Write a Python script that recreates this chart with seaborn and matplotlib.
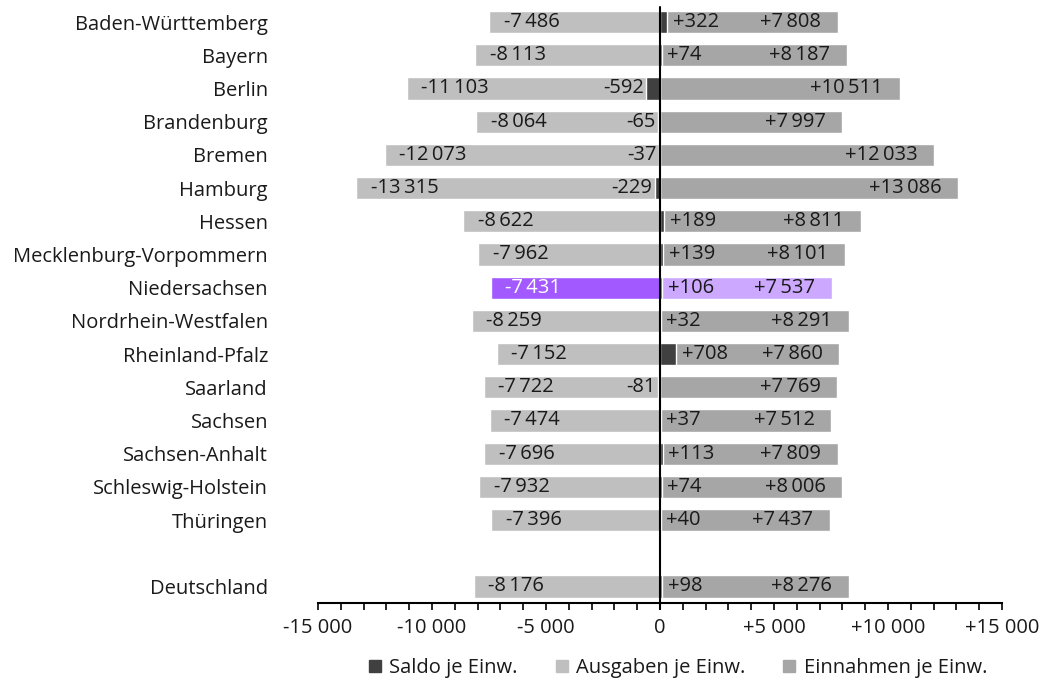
import numpy as np
import pandas as pd
import seaborn as sns
import matplotlib.pyplot as plt
from matplotlib.lines import Line2D
from matplotlib.ticker import MultipleLocator, FixedLocator

laender = ['Baden-Württemberg', 'Bayern', 'Berlin', 'Brandenburg', 'Bremen', 'Hamburg',
           'Hessen', 'Mecklenburg-Vorpommern', 'Niedersachsen', 'Nordrhein-Westfalen',
           'Rheinland-Pfalz', 'Saarland', 'Sachsen', 'Sachsen-Anhalt', 'Schleswig-Holstein',
           'Thüringen', 'Deutschland']
ausgaben = [-7486, -8113, -11103, -8064, -12073, -13315, -8622, -7962, -7431, -8259,
            -7152, -7722, -7474, -7696, -7932, -7396, -8176]
saldo = [322, 74, -592, -65, -37, -229, 189, 139, 106, 32, 708, -81, 37, 113, 74, 40, 98]
einnahmen = [7808, 8187, 10511, 7997, 12033, 13086, 8811, 8101, 7537, 8291, 7860, 7769,
             7512, 7809, 8006, 7437, 8276]
x_ticks = [-15000, -10000, -5000, 0, 5000, 10000, 15000]
highlight = 'Niedersachsen'

sns.set_style('white')
plt.rcParams['font.family'] = ['Open Sans', 'DejaVu Sans']

c_saldo = '#404040'
c_aus = '#bfbfbf'
c_ein = '#a6a6a6'
c_aus_hl = '#a259ff'
c_ein_hl = '#cca8ff'

df = pd.DataFrame({'Land': laender, 'Ausgaben': ausgaben, 'Saldo': saldo, 'Einnahmen': einnahmen})
# leere Zeile zwischen Thüringen und Deutschland
order = laender[:-1] + [' '] + laender[-1:]
pos = {name: i for i, name in enumerate(order)}

pal_aus = {l: (c_aus_hl if l == highlight else c_aus) for l in laender}
pal_ein = {l: (c_ein_hl if l == highlight else c_ein) for l in laender}

fig = plt.figure(figsize=(10.56, 6.79), dpi=100)
ax = fig.add_axes([0.3011, 0.1119, 0.6477, 0.880])

sns.barplot(data=df, y='Land', x='Ausgaben', order=order, hue='Land', palette=pal_aus,
            width=0.67, legend=False, saturation=1, ax=ax)
sns.barplot(data=df, y='Land', x='Einnahmen', order=order, hue='Land', palette=pal_ein,
            width=0.67, legend=False, saturation=1, ax=ax)
sns.barplot(data=df, y='Land', x='Saldo', order=order, color=c_saldo,
            width=0.67, saturation=1, ax=ax)

ax.axvline(0, color='black', lw=1.5, ymin=-0.01, ymax=0.998, clip_on=False, zorder=5)

def fmt(v, sign=True):
    s = f'{abs(v):,}'.replace(',', '\u2009')
    if v < 0:
        return '-' + s
    if v > 0 and sign:
        return '+' + s
    return s

fs = 14.5
fs_val = 14.5
txt = '#1a1a1a'
for _, r in df.iterrows():
    y = pos[r['Land']]
    tc = 'white' if r['Land'] == highlight else txt
    ax.annotate(fmt(r['Ausgaben']), (r['Ausgaben'], y), xytext=(10.5, 0), textcoords='offset points',
                ha='left', va='center', fontsize=fs_val, color=tc, zorder=6)
    ax.annotate(fmt(r['Einnahmen']), (r['Einnahmen'], y), xytext=(-12, 0), textcoords='offset points',
                ha='right', va='center', fontsize=fs_val, color=txt, zorder=6)
    s = r['Saldo']
    if s >= 0:
        ax.annotate(fmt(s), (s, y), xytext=(4, 0), textcoords='offset points',
                    ha='left', va='center', fontsize=fs_val, color=txt, zorder=6)
    else:
        ax.annotate(fmt(s), (s, y), xytext=(-2, 0), textcoords='offset points',
                    ha='right', va='center', fontsize=fs_val, color=txt, zorder=6)

ax.set_xlim(-15000, 15000)
ax.set_ylim(len(order) - 0.5, -0.5)
ax.xaxis.set_major_locator(FixedLocator(x_ticks))
ax.xaxis.set_minor_locator(MultipleLocator(1000))
ax.set_xticklabels([fmt(t).replace('\u2009', ' ') for t in x_ticks], fontsize=14.5, color=txt)
ax.tick_params(axis='x', which='both', direction='out', length=5, width=1.2, color='black',
               bottom=True, pad=6)
ax.tick_params(axis='y', length=0, pad=36, labelsize=fs, labelcolor=txt)
ax.set_xlabel('')
ax.set_ylabel('')
for side in ['top', 'right', 'left']:
    ax.spines[side].set_visible(False)
ax.spines['bottom'].set_color('black')
ax.spines['bottom'].set_linewidth(1.5)

handles = [Line2D([], [], marker='s', ls='', color=c, markersize=8) for c in (c_saldo, c_aus, c_ein)]
fig.legend(handles, ['Saldo je Einw.', 'Ausgaben je Einw.', 'Einnahmen je Einw.'],
           loc='center', bbox_to_anchor=(0.641, 0.016), ncol=3, frameon=False,
           fontsize=fs, handletextpad=0.3, columnspacing=1.8, handlelength=0.8,
           labelcolor=txt)

fig.savefig('out.png', dpi=100)
